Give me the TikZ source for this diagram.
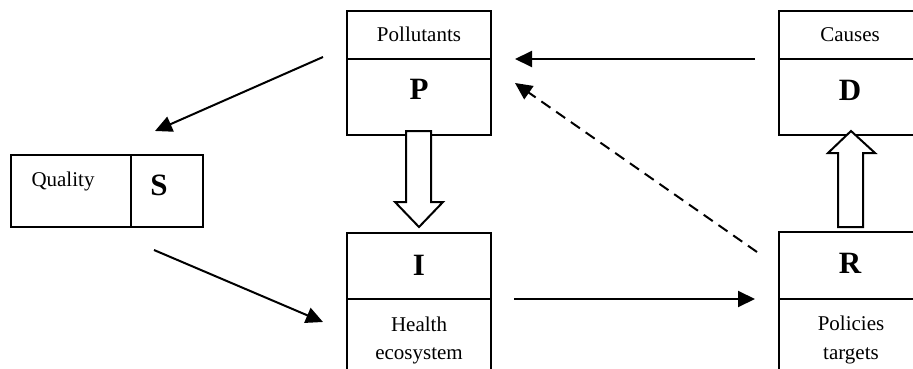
\documentclass[tikz,border=0pt]{standalone}
\usepackage{fontspec}
\setmainfont{Liberation Serif}
\usetikzlibrary{arrows.meta}
\begin{document}
\begin{tikzpicture}[x=1pt,y=-1pt,
  boxline/.style={line width=2pt},
  small/.style={font=\fontsize{21}{25}\selectfont, anchor=base, inner sep=0pt},
  big/.style={font=\fontsize{31}{35}\selectfont\bfseries, inner sep=0pt},
  link/.style={line width=2pt, -{Triangle[length=17pt,width=16pt]}},
  fat/.style={line width=2pt, fill=white, line join=miter}]
\useasboundingbox (0,0) rectangle (913,369);
\clip (0,0) rectangle (913,369);

% P box: pressures
\draw[boxline] (347,11) rectangle (491,135);
\draw[boxline] (347,59) -- (491,59);
\node[small] (pt) at (419,42) {Pollutants};
\node[big] (P) at (419,89) {P};

% D box: drivers
\draw[boxline] (779,11) rectangle (921,135);
\draw[boxline] (779,59) -- (921,59);
\node[small] (dt) at (850,42) {Causes};
\node[big] (D) at (850,90) {D};

% S box: state
\draw[boxline] (11,155) rectangle (203,227);
\draw[boxline] (131,155) -- (131,227);
\node[small] (st) at (63,186) {Quality};
\node[big] (S) at (159,185) {S};

% I box: impacts
\draw[boxline] (347,233) rectangle (491,400);
\draw[boxline] (347,299) -- (491,299);
\node[big] (I) at (419,265) {I};
\node[small] (it1) at (419,331) {Health};
\node[small] (it2) at (419,359) {ecosystem};

% R box: responses
\draw[boxline] (779,232) rectangle (921,400);
\draw[boxline] (779,299) -- (921,299);
\node[big] (R) at (850,263) {R};
\node[small] (rt1) at (851,330) {Policies};
\node[small] (rt2) at (851,359) {targets};

% connector end points
\coordinate (pS1) at (323,57);  \coordinate (pS2) at (155,131);
\coordinate (sI1) at (154,250); \coordinate (sI2) at (323,322);
\coordinate (dP1) at (755,59);  \coordinate (dP2) at (515,59);
\coordinate (iR1) at (514,299); \coordinate (iR2) at (755,299);
\coordinate (rP1) at (757,252); \coordinate (rP2) at (515,83);

\draw[link] (pS1) -- (pS2);
\draw[link] (sI1) -- (sI2);
\draw[link] (dP1) -- (dP2);
\draw[link] (iR1) -- (iR2);
\draw[link, dash pattern=on 11pt off 7pt] (rP1) -- (rP2);

% hollow block arrows
\draw[fat] (406,131) -- (431,131) -- (431,202) -- (443,202) -- (419,227)
  -- (395,202) -- (406,202) -- cycle;
\draw[fat] (838,227) -- (863,227) -- (863,153) -- (875,153) -- (851,131)
  -- (828,153) -- (838,153) -- cycle;
\end{tikzpicture}
\end{document}
